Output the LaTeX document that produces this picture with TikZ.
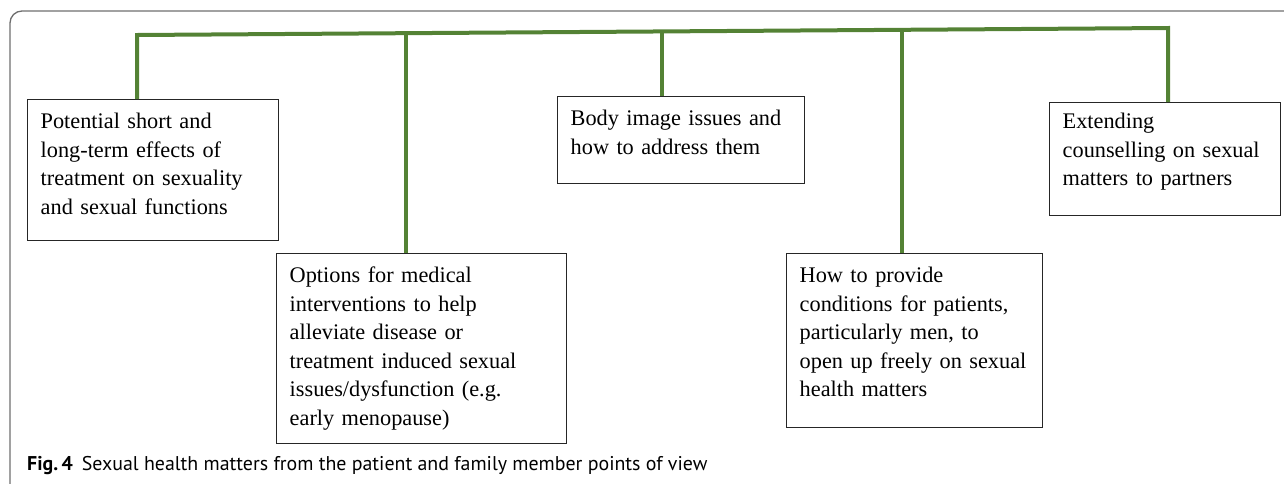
\documentclass[tikz,border=0pt]{standalone}
\usepackage{fontspec}
\setmainfont{Liberation Serif}
\newfontfamily\capfont{PT Sans}
\definecolor{bargreen}{RGB}{84,130,53}
\definecolor{framegray}{RGB}{110,110,110}
\begin{document}
\begin{tikzpicture}[x=1pt,y=-1pt,
  box/.style={draw=black!85, line width=1.4pt, anchor=north west, align=left,
    inner xsep=13pt, inner ysep=0pt,
    font=\fontsize{22.3}{28.5}\selectfont},
  bar/.style={draw=bargreen, line width=4pt},
  frame/.style={draw=framegray, line width=1.3pt}]
\useasboundingbox (0,0) rectangle (1284,483);
\draw[frame, rounded corners=12pt] (10,500) -- (10,11) -- (1300,11);

\node[box, text width=225pt, text height=29pt, text depth=112pt] (b1) at (27,99)
  {Potential short and\\long-term effects of\\treatment on sexuality\\and sexual functions};
\node[box, text width=264pt, text height=29pt, text depth=161pt] (b2) at (276,253)
  {Options for medical\\interventions to help\\alleviate disease or\\treatment induced sexual\\issues/dysfunction (e.g.\\early menopause)};
\node[box, text width=221pt, text height=29pt, text depth=58pt] (b3) at (557,96)
  {Body image issues and\\how to address them};
\node[box, text width=230pt, text height=29pt, text depth=145pt] (b4) at (786,253)
  {How to provide\\conditions for patients,\\particularly men, to\\open up freely on sexual\\health matters};
\node[box, text width=205pt, text height=26pt, text depth=87pt] (b5) at (1049,102)
  {Extending\\counselling on sexual\\matters to partners};

\coordinate (t1) at (137,35);
\coordinate (t2) at (406,33.2);
\coordinate (t3) at (662,31.4);
\coordinate (t4) at (902,29.8);
\coordinate (t5) at (1168,28);
\draw[bar] (t1 |- b1.north) -- (t1) -- (t5) -- (t5 |- b5.north);
\draw[bar] (t2) -- (t2 |- b2.north);
\draw[bar] (t3) -- (t3 |- b3.north);
\draw[bar] (t4) -- (t4 |- b4.north);

\node[anchor=base west, inner sep=0pt, font=\capfont\fontsize{19.9}{23}\selectfont] (cap) at (27,470)
  {\textbf{Fig.\,4}\hspace{9pt}Sexual health matters from the patient and family member points of view};
\end{tikzpicture}
\end{document}
